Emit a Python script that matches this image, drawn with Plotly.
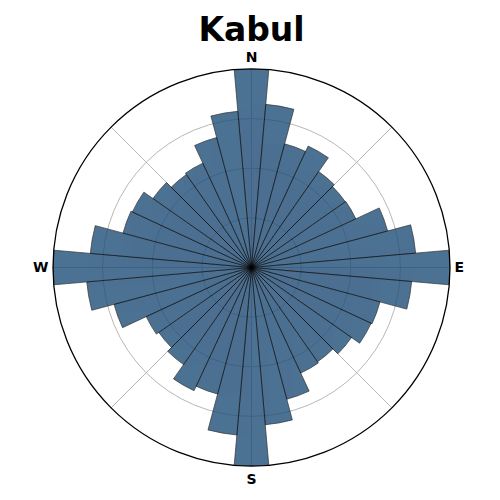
import plotly.graph_objects as go

title = "Kabul"
angles = list(range(0, 360, 10))
values = [1.0, 0.825, 0.645, 0.675, 0.59, 0.577, 0.58, 0.71, 0.83,
          1.0, 0.81, 0.67, 0.665, 0.615, 0.58, 0.587, 0.687, 0.795,
          1.0, 0.847, 0.66, 0.685, 0.597, 0.57, 0.585, 0.717, 0.833,
          1.0, 0.815, 0.67, 0.662, 0.606, 0.572, 0.58, 0.678, 0.79]
angle_ticks = [0, 45, 90, 135, 180, 225, 270, 315]
angle_labels = ["<b>N</b>", "", "<b>E</b>", "", "<b>S</b>", "", "<b>W</b>", ""]
radial_ticks = [0.25, 0.5, 0.75, 1.0]

fig = go.Figure(go.Barpolar(
    r=values, theta=angles, width=[10] * len(angles),
    marker=dict(color="#1f4e79", opacity=0.8, line=dict(color="black", width=0.7)),
    hoverinfo="r+theta",
))
fig.update_layout(
    width=492, height=492, autosize=False,
    margin=dict(l=45, r=50, t=61, b=34),
    paper_bgcolor="white",
    font=dict(family="DejaVu Sans", color="black"),
    title=dict(text="<b>Kabul</b>", x=0.495, xanchor="center", y=0.957, yanchor="middle",
               font=dict(family="DejaVu Sans", size=33, color="black")),
    showlegend=False,
    polar=dict(
        bgcolor="white",
        domain=dict(x=[0, 1], y=[0, 1]),
        barmode="overlay",
        angularaxis=dict(direction="clockwise", rotation=90, tickmode="array",
                         tickvals=angle_ticks, ticktext=angle_labels,
                         ticks="outside", ticklen=1, tickcolor="rgba(0,0,0,0)",
                         showline=True, linecolor="black", linewidth=1.3,
                         gridcolor="#b8b8b8", gridwidth=1.3,
                         tickfont=dict(family="DejaVu Sans", size=14, color="black")),
        radialaxis=dict(range=[0, 1], tickmode="array", tickvals=radial_ticks,
                        showticklabels=False, ticks="", showline=False,
                        gridcolor="#b8b8b8", gridwidth=1.3),
    ),
)
fig.write_html("out.html")
